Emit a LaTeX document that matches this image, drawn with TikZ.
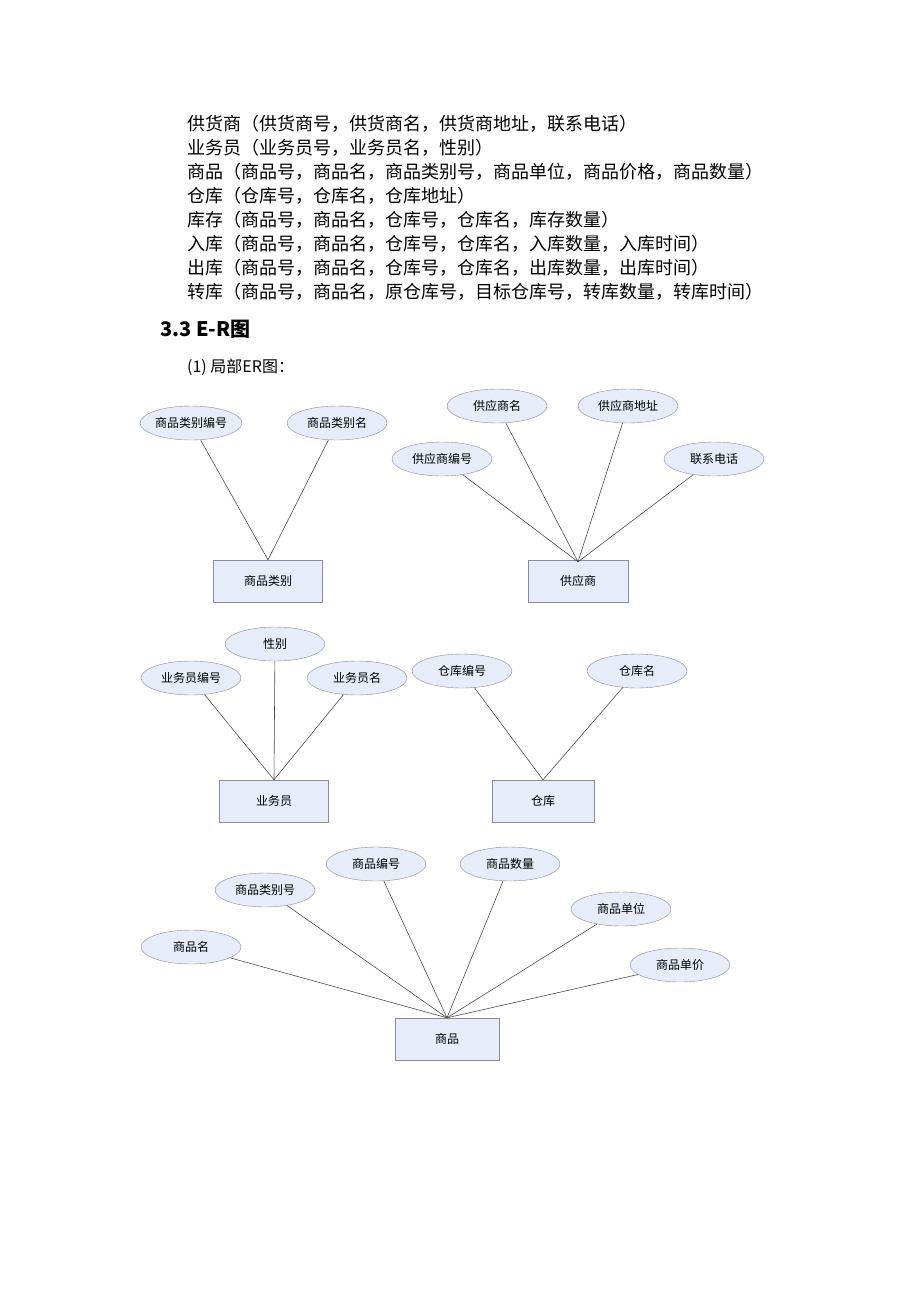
\documentclass[tikz,border=0pt]{standalone}
\usepackage{fontspec}
\setmainfont{Liberation Serif}
\newfontfamily\cjk{Noto Sans CJK SC}
\usetikzlibrary{shapes.geometric}
\definecolor{efill}{HTML}{E6ECF8}
\definecolor{efrm}{HTML}{8A8A9A}
\begin{document}
\begin{tikzpicture}[x=1pt,y=-1pt,
 attr/.style={ellipse,draw=efrm,fill=efill,minimum width=100pt,minimum height=34pt,inner sep=0pt,font=\cjk\fontsize{12}{12}\selectfont},
 ent/.style={rectangle,draw=efrm,fill=efill,inner sep=0pt,font=\cjk\fontsize{12}{12}\selectfont},
 lnk/.style={draw=black!70,line width=0.6pt},
 body/.style={anchor=west,inner sep=0pt,font=\cjk\fontsize{18}{18}\selectfont}]
\useasboundingbox (0,0) rectangle (920,1302);
\node[body] (t1) at (187,124) {供货商（供货商号，供货商名，供货商地址，联系电话）};
\node[body] (t2) at (187,148) {业务员（业务员号，业务员名，性别）};
\node[body] (t3) at (187,172) {商品（商品号，商品名，商品类别号，商品单位，商品价格，商品数量）};
\node[body] (t4) at (187,196) {仓库（仓库号，仓库名，仓库地址）};
\node[body] (t5) at (187,220) {库存（商品号，商品名，仓库号，仓库名，库存数量）};
\node[body] (t6) at (187,244) {入库（商品号，商品名，仓库号，仓库名，入库数量，入库时间）};
\node[body] (t7) at (187,268) {出库（商品号，商品名，仓库号，仓库名，出库数量，出库时间）};
\node[body] (t8) at (187,292) {转库（商品号，商品名，原仓库号，目标仓库号，转库数量，转库时间）};
\node[body,font=\cjk\bfseries\fontsize{20}{20}\selectfont] (h) at (160,329) {3.3 E-R图};
\node[body,font=\cjk\fontsize{16}{16}\selectfont] (s) at (187,367) {(1) 局部ER图：};
% 商品类别
\node[ent,minimum width=109pt,minimum height=42pt] (r1) at (268,581) {商品类别};
\node[attr] (a11) at (191,423) {商品类别编号};
\node[attr] (a12) at (337,423) {商品类别名};
% 供应商
\node[ent,minimum width=100pt,minimum height=42pt] (r2) at (578,581) {供应商};
\node[attr] (a21) at (497,406) {供应商名};
\node[attr] (a22) at (628,406) {供应商地址};
\node[attr] (a23) at (442,459) {供应商编号};
\node[attr] (a24) at (714,459) {联系电话};
% 业务员
\node[ent,minimum width=109pt,minimum height=42pt] (r3) at (274,801) {业务员};
\node[attr] (a31) at (275,644) {性别};
\node[attr] (a32) at (191,678) {业务员编号};
\node[attr] (a33) at (357,678) {业务员名};
% 仓库
\node[ent,minimum width=102pt,minimum height=42pt] (r4) at (543,801) {仓库};
\node[attr] (a41) at (462,671) {仓库编号};
\node[attr] (a42) at (637,671) {仓库名};
% 商品
\node[ent,minimum width=104pt,minimum height=42pt] (r5) at (447,1039) {商品};
\node[attr] (a51) at (376,864) {商品编号};
\node[attr] (a52) at (510,864) {商品数量};
\node[attr] (a53) at (265,890) {商品类别号};
\node[attr] (a54) at (621,909) {商品单位};
\node[attr] (a55) at (191,947) {商品名};
\node[attr] (a56) at (680,965) {商品单价};
\foreach \a in {a11,a12} \draw[lnk] (\a) -- (r1.north);
\foreach \a in {a21,a22,a23,a24} \draw[lnk] (\a) -- ([yshift=-2pt]r2.north);
\foreach \a in {a31,a32,a33} \draw[lnk] (\a) -- (r3.north);
\foreach \a in {a41,a42} \draw[lnk] (\a) -- (r4.north);
\foreach \a in {a51,a52,a53,a54,a55,a56} \draw[lnk] (\a) -- (r5.north);
\end{tikzpicture}
\end{document}
